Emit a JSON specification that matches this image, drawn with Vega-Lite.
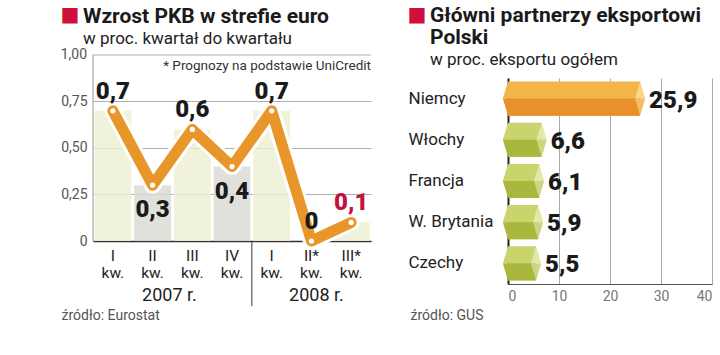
{
  "$schema": "https://vega.github.io/schema/vega-lite/v6.json",
  "padding": {"left": 60, "top": 4, "right": 4, "bottom": 2},
  "background": "white",
  "datasets": {
    "gdp": [
      {"q": "2007 I", "v": 0.7},
      {"q": "2007 II", "v": 0.3},
      {"q": "2007 III", "v": 0.6},
      {"q": "2007 IV", "v": 0.4},
      {"q": "2008 I", "v": 0.7},
      {"q": "2008 II*", "v": 0.0},
      {"q": "2008 III*", "v": 0.1}
    ],
    "exports": [
      {"country": "Niemcy", "v": 25.9},
      {"country": "Włochy", "v": 6.6},
      {"country": "Francja", "v": 6.1},
      {"country": "W. Brytania", "v": 5.9},
      {"country": "Czechy", "v": 5.5}
    ]
  },
  "config": {
    "view": {"stroke": null},
    "font": "Roboto",
    "locale": {"number": {"decimal": ",", "thousands": " ", "grouping": [3], "currency": ["", ""]}},
    "title": {"anchor": "start", "frame": "bounds", "dx": 23, "font": "Roboto", "fontSize": 21, "fontWeight": "bold", "color": "#1a1a1a", "subtitleFont": "Roboto", "subtitleFontSize": 17, "subtitleColor": "#222", "subtitlePadding": 4, "lineHeight": 22},
    "concat": {"spacing": 35}
  },
  "hconcat": [
    {
      "width": 278,
      "height": 163,
      "title": {"text": "Wzrost PKB w strefie euro", "subtitle": "w proc. kwartał do kwartału", "offset": -43},
      "data": {"name": "gdp"},
      "encoding": {
        "x": {"field": "q", "type": "nominal", "sort": null,
          "scale": {"paddingInner": 0, "paddingOuter": 0},
          "axis": {"labelExpr": "[split(datum.label, ' ')[1], 'kw.']", "labelAngle": 0, "labelFontSize": 15.5, "labelColor": "#222", "labelLineHeight": 17.5, "labelPadding": 7, "ticks": false, "domainColor": "#333", "domainWidth": 1.5, "grid": false,
            "title": "źródło: Eurostat", "titleFontSize": 14, "titleFontWeight": "normal", "titleColor": "#555", "titleAnchor": "start", "titleAlign": "left", "titleBaseline": "middle", "titleX": -32, "titleY": 74}},
        "y": {"field": "v", "type": "quantitative", "scale": {"domain": [0, 0.8763], "nice": false},
          "axis": {"values": [0, 0.25, 0.5, 0.75], "format": ".2f", "labelExpr": "datum.value === 0 ? '0' : datum.label", "grid": true, "gridColor": "#b0b0b0", "ticks": false, "labelPadding": 6, "labelFontSize": 14, "labelColor": "#555", "domain": false,
            "title": "■", "titleColor": "#d0103a", "titleFont": "DejaVu Sans", "titleFontSize": 20, "titleFontWeight": "normal", "titleAngle": 0, "titleAlign": "left", "titleBaseline": "alphabetic", "titleX": -33, "titleY": -58}}
      },
      "layer": [
        {"mark": {"type": "bar", "width": {"band": 0.93}, "opacity": 0.82},
         "encoding": {"color": {"condition": {"test": "indexof(['2007 I','2007 III','2008 I','2008 III*'], datum.q) >= 0", "value": "#edefd2"}, "value": "#dadbd4"}}},
        {"transform": [{"filter": "datum.q === '2007 I'"}],
         "mark": {"type": "rule", "color": "#b0b0b0", "strokeWidth": 1},
         "encoding": {"x": null, "y": {"datum": 1}}},
        {"transform": [{"filter": "datum.q === '2007 I'"}],
         "mark": {"type": "text", "align": "right", "baseline": "middle", "dx": -6, "fontSize": 14, "color": "#555"},
         "encoding": {"x": {"field": "q", "type": "nominal", "bandPosition": 0}, "y": {"datum": 1}, "text": {"value": "1,00"}}},
        {"transform": [{"filter": "datum.q === '2007 I'"}],
         "mark": {"type": "rule", "color": "#999", "strokeWidth": 1},
         "encoding": {"x": {"field": "q", "type": "nominal", "bandPosition": 0}, "y": {"datum": 0}, "y2": {"datum": 1}}},
        {"mark": {"type": "line", "color": "white", "strokeWidth": 17, "strokeCap": "round", "strokeJoin": "round"}},
        {"mark": {"type": "line", "color": "#e8962a", "strokeWidth": 11, "strokeCap": "round", "strokeJoin": "round"}},
        {"mark": {"type": "point", "filled": true, "fill": "white", "stroke": "#e8962a", "strokeWidth": 1.5, "size": 45, "opacity": 1}},
        {"transform": [{"filter": "indexof(['2007 II','2007 IV'], datum.q) < 0"}],
         "mark": {"type": "text", "dy": -12, "baseline": "alphabetic", "fontSize": 24, "fontWeight": 900, "font": "Roboto"},
         "encoding": {"text": {"field": "v", "format": ".1~f"},
           "color": {"condition": {"test": "datum.q === '2008 III*'", "value": "#c4123f"}, "value": "#1a1a1a"}}},
        {"transform": [{"filter": "indexof(['2007 II','2007 IV'], datum.q) >= 0"}],
         "mark": {"type": "text", "dy": 32, "baseline": "alphabetic", "fontSize": 24, "fontWeight": 900, "font": "Roboto", "color": "#1a1a1a"},
         "encoding": {"text": {"field": "v", "format": ".1~f"}}},
        {"transform": [{"filter": "datum.q === '2008 III*'"}],
         "mark": {"type": "text", "align": "right", "baseline": "middle", "fontSize": 13.5, "color": "#333"},
         "encoding": {"x": {"field": "q", "type": "nominal", "bandPosition": 1}, "y": {"datum": 0.94}, "text": {"value": "* Prognozy na podstawie UniCredit"}}},
        {"transform": [{"filter": "datum.q === '2007 IV'"}],
         "mark": {"type": "rule", "color": "#333", "strokeWidth": 1},
         "encoding": {"x": {"field": "q", "type": "nominal", "bandPosition": 1}, "y": {"datum": 0}, "y2": {"datum": -0.35}}},
        {"transform": [{"filter": "datum.q === '2007 II'"}],
         "mark": {"type": "text", "fontSize": 18, "baseline": "alphabetic", "color": "#222", "dx": -3},
         "encoding": {"x": {"field": "q", "type": "nominal", "bandPosition": 1}, "y": {"datum": -0.3226}, "text": {"value": "2007 r."}}},
        {"transform": [{"filter": "datum.q === '2008 II*'"}],
         "mark": {"type": "text", "fontSize": 18, "baseline": "alphabetic", "color": "#222", "dx": 5},
         "encoding": {"y": {"datum": -0.3226}, "text": {"value": "2008 r."}}}
      ]
    },
    {
      "width": 204,
      "height": 206,
      "title": {"text": ["Główni partnerzy eksportowi", "Polski"], "subtitle": "w proc. eksportu ogółem", "offset": -64},
      "data": {"name": "exports"},
      "encoding": {
        "y": {"field": "country", "type": "nominal", "sort": null,
          "scale": {"paddingInner": 0, "paddingOuter": 0},
          "axis": {"labelAlign": "left", "labelPadding": 100, "labelFontSize": 17, "labelColor": "#222", "ticks": false, "domainColor": "#222", "domainWidth": 2,
            "title": "■", "titleColor": "#d0103a", "titleFont": "DejaVu Sans", "titleFontSize": 20, "titleFontWeight": "normal", "titleAngle": 0, "titleAlign": "left", "titleBaseline": "alphabetic", "titleX": -101, "titleY": -58}},
        "x": {"field": "v", "type": "quantitative", "scale": {"domain": [0, 40]},
          "axis": {"values": [0, 10, 20, 30, 40], "grid": true, "gridColor": "#a8a8a8", "ticks": false, "labelColor": "#777", "labelFontSize": 14, "labelPadding": 5, "domainColor": "#555",
            "title": "źródło: GUS", "titleFontSize": 14, "titleFontWeight": "normal", "titleColor": "#555", "titleAnchor": "start", "titleAlign": "left", "titleBaseline": "middle", "titleX": -98, "titleY": 31}}
      },
      "layer": [
        {"mark": {"type": "bar", "height": {"band": 0.83}},
         "encoding": {"color": {"condition": {"test": "datum.country === 'Niemcy'", "value": "#f3b548"}, "value": "#c9d46c"}}},
        {"mark": {"type": "bar", "height": {"band": 0.415}, "yOffset": 8.5},
         "encoding": {"color": {"condition": {"test": "datum.country === 'Niemcy'", "value": "#e8912c"}, "value": "#a9b73f"}}},
        {"mark": {"type": "point", "shape": "M0,-1L-0.3,0L0,0Z", "filled": true, "opacity": 1, "strokeWidth": 0, "size": 1170},
         "encoding": {"x": {"datum": 0}, "color": {"condition": {"test": "datum.country === 'Niemcy'", "value": "#f3b548"}, "value": "#c9d46c"}}},
        {"mark": {"type": "point", "shape": "M0,0L-0.3,0L0,1Z", "filled": true, "opacity": 1, "strokeWidth": 0, "size": 1170},
         "encoding": {"x": {"datum": 0}, "color": {"condition": {"test": "datum.country === 'Niemcy'", "value": "#e8912c"}, "value": "#a9b73f"}}},
        {"mark": {"type": "point", "shape": "M0,-1L0.3,0L-0.3,0Z", "filled": true, "opacity": 1, "strokeWidth": 0, "size": 1170},
         "encoding": {"color": {"condition": {"test": "datum.country === 'Niemcy'", "value": "#f8d68a"}, "value": "#e2e9a6"}}},
        {"mark": {"type": "point", "shape": "M-0.3,0L0.3,0L0,1Z", "filled": true, "opacity": 1, "strokeWidth": 0, "size": 1170},
         "encoding": {"color": {"condition": {"test": "datum.country === 'Niemcy'", "value": "#f1bf62"}, "value": "#ccd680"}}},
        {"mark": {"type": "text", "align": "left", "baseline": "middle", "dx": 9, "dy": 2, "fontSize": 24, "fontWeight": 900, "font": "Roboto", "color": "#1a1a1a"},
         "encoding": {"text": {"field": "v", "format": ".1f"}}}
      ]
    }
  ]
}
